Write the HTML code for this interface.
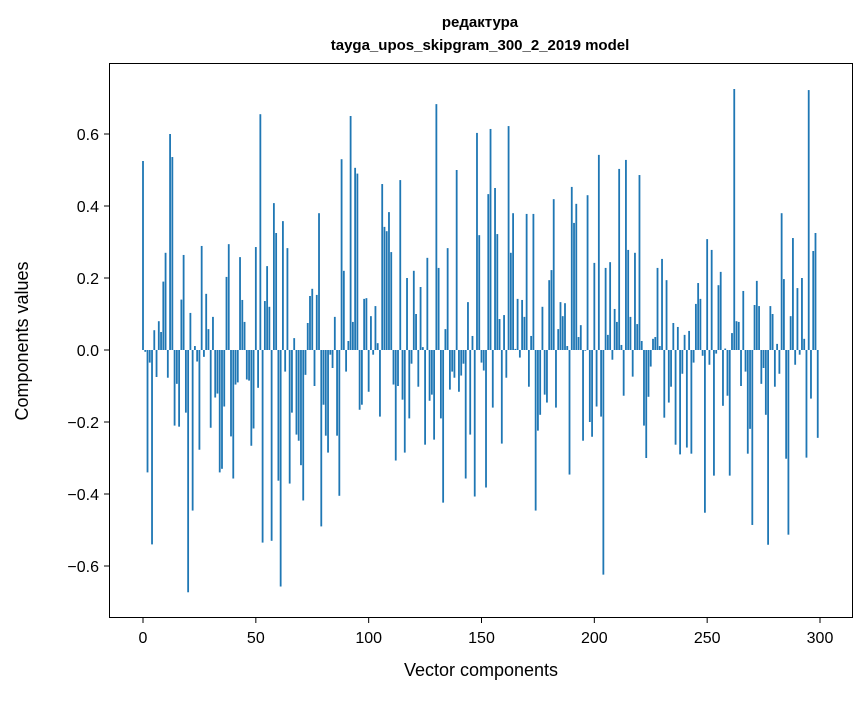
<!DOCTYPE html>
<html><head><meta charset="utf-8"><style>
body{margin:0;background:#fff;}
svg text{font-family:"Liberation Sans","DejaVu Sans",sans-serif;fill:#000;}
</style></head><body>
<svg id="chart" width="867" height="696" xmlns="http://www.w3.org/2000/svg">
<rect width="867" height="696" fill="#fff"/>
<text x="480" y="27" text-anchor="middle" font-size="15" font-weight="bold">редактура</text>
<text x="480" y="50" text-anchor="middle" font-size="15" font-weight="bold">tayga_upos_skipgram_300_2_2019 model</text>
<g id="bars"></g>
<g id="xaxis"></g>
<g id="yaxis"></g>
<rect x="109.5" y="63.5" width="743" height="554" fill="none" stroke="#000" stroke-width="1"/>
<text x="481" y="676" text-anchor="middle" font-size="18">Vector components</text>
<text transform="translate(28,341) rotate(-90)" text-anchor="middle" font-size="18">Components values</text>
</svg>
<script>
const values = [
0.525,-0.005,-0.34,-0.035,-0.54,0.055,-0.075,0.08,0.05,0.19,
0.27,-0.077,0.6,0.536,-0.21,-0.094,-0.213,0.14,0.264,-0.174,
-0.673,0.103,-0.446,0.011,-0.032,-0.277,0.289,-0.019,0.156,0.058,
-0.216,0.092,-0.132,-0.121,-0.34,-0.33,-0.157,0.203,0.294,-0.24,
-0.357,-0.096,-0.09,0.258,0.139,0.078,-0.082,-0.085,-0.266,-0.218,
0.286,-0.105,0.655,-0.535,0.136,0.233,0.12,-0.53,0.408,0.325,
-0.363,-0.657,0.358,-0.06,0.283,-0.371,-0.174,0.033,-0.235,-0.252,
-0.32,-0.418,-0.069,0.075,0.15,0.17,-0.1,0.153,0.38,-0.49,
-0.152,-0.238,-0.285,-0.013,-0.05,0.092,-0.238,-0.405,0.53,0.22,
-0.06,0.025,0.65,0.078,0.506,0.49,-0.166,-0.152,0.142,0.144,
-0.116,0.094,-0.013,0.122,0.019,-0.185,0.461,0.342,0.33,0.383,
0.272,-0.096,-0.307,-0.1,0.472,-0.138,-0.285,0.2,-0.19,-0.038,
0.22,0.1,-0.102,0.175,0.008,-0.263,0.256,-0.141,-0.124,-0.249,
0.683,0.228,-0.19,-0.424,0.058,0.283,-0.11,-0.06,-0.077,0.5,
-0.116,-0.071,-0.038,-0.357,0.133,-0.235,0.039,-0.407,0.603,0.319,
-0.035,-0.057,-0.382,0.433,0.614,-0.16,0.45,0.322,0.086,-0.26,
0.097,-0.077,0.622,0.27,0.38,0.003,0.142,-0.021,0.139,0.092,
0.378,-0.102,0.039,0.378,-0.446,-0.224,-0.18,0.12,-0.124,-0.146,
0.194,0.222,0.419,-0.16,0.058,0.133,0.094,0.13,0.011,-0.346,
0.453,0.353,0.406,0.036,0.069,-0.252,-0.002,0.43,-0.2,-0.241,
0.242,-0.157,0.542,-0.185,-0.624,0.228,0.042,0.244,-0.027,0.114,
0.078,0.503,0.014,-0.127,0.528,0.278,0.092,-0.074,0.27,0.072,
0.486,0.025,-0.21,-0.3,-0.13,-0.046,0.031,0.036,0.228,0.011,
0.253,-0.188,0.194,-0.146,-0.102,0.075,-0.263,0.064,-0.29,-0.066,
0.042,-0.271,0.053,-0.288,-0.035,0.128,0.186,0.142,-0.016,-0.452,
0.308,-0.041,0.278,-0.349,-0.01,0.18,0.217,-0.155,0.004,-0.127,
-0.349,0.047,0.725,0.08,0.078,-0.1,0.164,-0.06,-0.288,-0.219,
-0.486,0.125,0.192,0.122,-0.094,-0.05,-0.18,-0.541,0.122,0.1,
-0.102,0.017,-0.066,0.38,0.197,-0.302,-0.513,0.094,0.311,-0.041,
0.172,-0.013,0.2,0.031,-0.299,0.722,-0.135,0.275,0.325,-0.244
];
const xTicks = [0,50,100,150,200,250,300];
const yTicks = [-0.6,-0.4,-0.2,0.0,0.2,0.4,0.6];

const NS = "http://www.w3.org/2000/svg";
function xs(v){ return 143 + v * (677/300); }
function ys(v){ return 350 - v * 360; }

const barsG = document.getElementById('bars');
values.forEach((v, i) => {
  const r = document.createElementNS(NS, 'rect');
  const w = 0.8 * (677/300);
  r.setAttribute('x', xs(i) - w/2);
  r.setAttribute('y', Math.min(ys(v), ys(0)));
  r.setAttribute('width', w);
  r.setAttribute('height', Math.abs(ys(v) - ys(0)));
  r.setAttribute('fill', '#1f77b4');
  
  
  barsG.appendChild(r);
});

const xg = document.getElementById('xaxis');
xTicks.forEach(t => {
  const l = document.createElementNS(NS, 'line');
  l.setAttribute('x1', xs(t)); l.setAttribute('x2', xs(t));
  l.setAttribute('y1', 618); l.setAttribute('y2', 623);
  l.setAttribute('stroke', '#000');
  
  
  xg.appendChild(l);
  const tx = document.createElementNS(NS, 'text');
  tx.setAttribute('x', xs(t)); tx.setAttribute('y', 643);
  tx.setAttribute('text-anchor', 'middle'); tx.setAttribute('font-size', '16');
  tx.textContent = String(t);
  
  
  xg.appendChild(tx);
});

const yg = document.getElementById('yaxis');
yTicks.forEach(t => {
  const l = document.createElementNS(NS, 'line');
  l.setAttribute('x1', 104); l.setAttribute('x2', 109);
  l.setAttribute('y1', ys(t)); l.setAttribute('y2', ys(t));
  l.setAttribute('stroke', '#000');
  
  
  yg.appendChild(l);
  const tx = document.createElementNS(NS, 'text');
  tx.setAttribute('x', 99); tx.setAttribute('y', ys(t) + 6);
  tx.setAttribute('text-anchor', 'end'); tx.setAttribute('font-size', '16');
  tx.textContent = (t < 0 ? '\u2212' : '') + Math.abs(t).toFixed(1);
  
  
  yg.appendChild(tx);
});
</script>
</body></html>
